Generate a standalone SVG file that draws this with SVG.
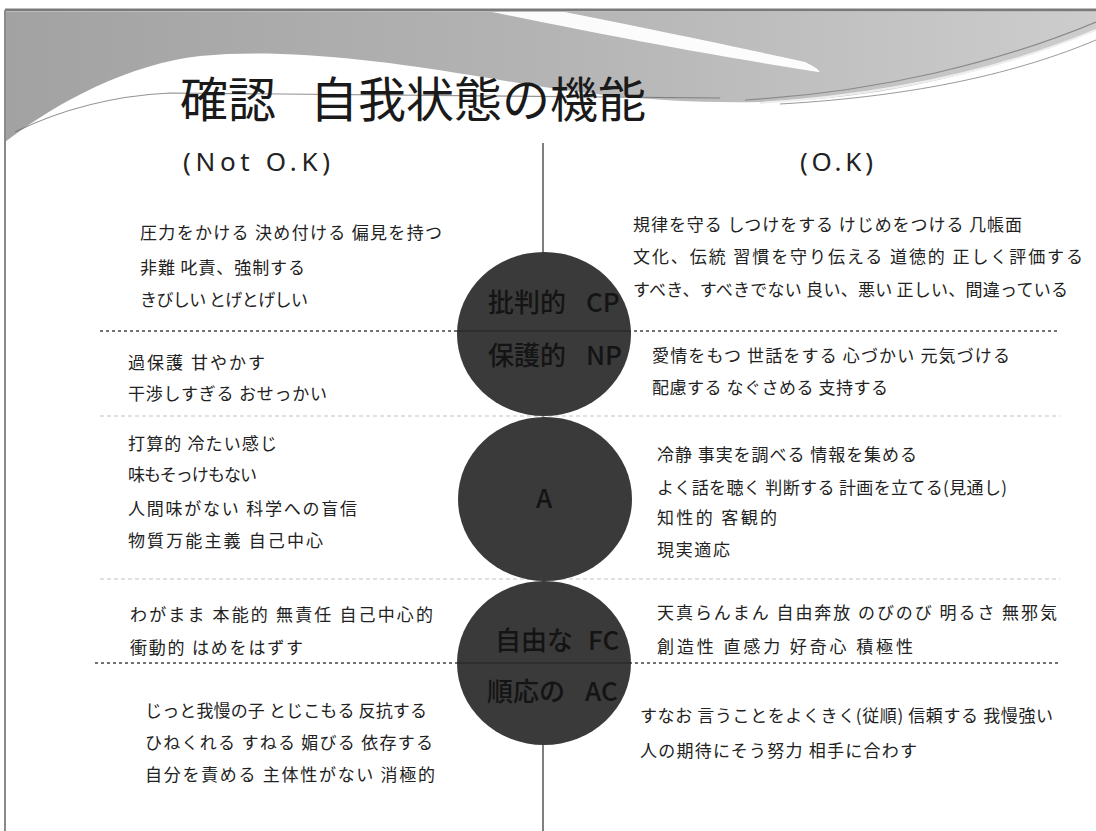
<svg xmlns="http://www.w3.org/2000/svg" width="1096" height="831" viewBox="0 0 1096 831">
<defs>
<linearGradient id="hdr" x1="0" y1="0" x2="1" y2="0">
<stop offset="0" stop-color="#a2a2a2"/>
<stop offset="0.5" stop-color="#b4b4b4"/>
<stop offset="1" stop-color="#cdcdcd"/>
</linearGradient>
<style>
.t{font-family:"Noto Sans CJK JP","Noto Sans",sans-serif;fill:#222;font-size:17px}
.h{font-family:"Noto Sans","Noto Sans CJK JP",sans-serif;fill:#222;font-size:26px}
.c{fill:#3a3a3a}
.cl{font-family:"Noto Sans CJK JP","Noto Sans",sans-serif;fill:#141414;font-size:26px;font-weight:500}
.dk{stroke:#444;stroke-width:1.5;stroke-dasharray:3 3;fill:none}
.lt{stroke:#c4c4c4;stroke-width:1.2;stroke-dasharray:4 3;fill:none}
</style>
</defs>
<rect width="1096" height="831" fill="#fff"/>
<g id="background">
<path d="M5,12 L1096,12 L1096,30 C1000,70 880,100 760,102 C640,104 560,90 470,75 C380,60 280,48 200,56 C130,64 60,100 5,142 Z" fill="url(#hdr)"/>
<path d="M492,12 C570,28 690,52 818,72 C822,73 818,68 805,62 C705,40 615,22 565,12 Z" fill="#ffffff" opacity="0.95"/>
<path d="M1096,22 C1000,62 880,92 745,100" stroke="#8a8a8a" stroke-width="1.2" fill="none"/>
<path d="M1096,30 C1010,66 900,94 760,103" stroke="#eeeeee" stroke-width="2" fill="none"/>
<path d="M1096,40 C1020,72 920,96 780,104" stroke="#9a9a9a" stroke-width="1" fill="none"/>
<path d="M15,132 C60,110 110,96 170,93 L720,98" stroke="#666" stroke-width="1.2" fill="none" opacity="0.7"/>
<line x1="5" y1="10" x2="1096" y2="10" stroke="#7a7a7a" stroke-width="3"/>
<line x1="5" y1="10" x2="5" y2="831" stroke="#8a8a8a" stroke-width="2"/>
</g>
<g id="title">
<text font-family="'Noto Sans CJK JP',sans-serif" font-size="48" fill="#1a1a1a" y="117"><tspan x="180">確認</tspan><tspan x="310">自我状態の機能</tspan></text>
</g>
<g id="headers">
<text class="h" x="183" y="171" textLength="147" lengthAdjust="spacing">(Not O.K)</text>
<text class="h" x="800" y="171" textLength="73" lengthAdjust="spacing">(O.K)</text>
</g>
<g id="connectors">
<line x1="543" y1="143" x2="543" y2="831" stroke="#555" stroke-width="1.5"/>
<line class="dk" x1="100" y1="331" x2="1060" y2="331"/>
<line class="lt" x1="100" y1="416" x2="1060" y2="416"/>
<line class="lt" x1="100" y1="579" x2="1060" y2="579"/>
<line class="dk" x1="95" y1="663" x2="1060" y2="663"/>
</g>
<g id="node-cp-np">
<ellipse class="c" cx="544" cy="334" rx="87" ry="82"/>
<line x1="457" y1="331" x2="631" y2="331" stroke="#222" stroke-width="1.2"/>
<text class="cl" y="312"><tspan x="488">批判的</tspan><tspan x="586">CP</tspan></text>
<text class="cl" y="365"><tspan x="488">保護的</tspan><tspan x="586">NP</tspan></text>
</g>
<g id="node-a">
<ellipse class="c" cx="545" cy="499" rx="87" ry="82"/>
<text class="cl" x="544" y="508" text-anchor="middle" font-size="22">A</text>
</g>
<g id="node-fc-ac">
<ellipse class="c" cx="544" cy="663" rx="87" ry="82"/>
<line x1="457" y1="663" x2="631" y2="663" stroke="#222" stroke-width="1.2"/>
<text class="cl" y="650"><tspan x="495">自由な</tspan><tspan x="588">FC</tspan></text>
<text class="cl" y="701"><tspan x="487">順応の</tspan><tspan x="585">AC</tspan></text>
</g>
<g id="cp-notok">
<text class="t" x="140" y="239" textLength="302" lengthAdjust="spacing">圧力をかける 決め付ける 偏見を持つ</text>
<text class="t" x="140" y="274" textLength="165" lengthAdjust="spacing">非難 叱責、強制する</text>
<text class="t" x="140" y="306" textLength="168" lengthAdjust="spacing">きびしい とげとげしい</text>
</g>
<g id="cp-ok">
<text class="t" x="633" y="231" textLength="389" lengthAdjust="spacing">規律を守る しつけをする けじめをつける 几帳面</text>
<text class="t" x="633" y="263" textLength="450" lengthAdjust="spacing">文化、伝統 習慣を守り伝える 道徳的 正しく評価する</text>
<text class="t" x="633" y="296" textLength="435" lengthAdjust="spacing">すべき、すべきでない 良い、悪い 正しい、間違っている</text>
</g>
<g id="np-notok">
<text class="t" x="128" y="369" textLength="137" lengthAdjust="spacing">過保護 甘やかす</text>
<text class="t" x="128" y="400" textLength="199" lengthAdjust="spacing">干渉しすぎる おせっかい</text>
</g>
<g id="np-ok">
<text class="t" x="652" y="362" textLength="358" lengthAdjust="spacing">愛情をもつ 世話をする 心づかい 元気づける</text>
<text class="t" x="652" y="394" textLength="236" lengthAdjust="spacing">配慮する なぐさめる 支持する</text>
</g>
<g id="a-notok">
<text class="t" x="128" y="450" textLength="149" lengthAdjust="spacing">打算的 冷たい感じ</text>
<text class="t" x="128" y="481" textLength="129" lengthAdjust="spacing">味もそっけもない</text>
<text class="t" x="128" y="515" textLength="229" lengthAdjust="spacing">人間味がない 科学への盲信</text>
<text class="t" x="128" y="547" textLength="195" lengthAdjust="spacing">物質万能主義 自己中心</text>
</g>
<g id="a-ok">
<text class="t" x="657" y="461" textLength="260" lengthAdjust="spacing">冷静 事実を調べる 情報を集める</text>
<text class="t" x="657" y="494" textLength="350" lengthAdjust="spacing">よく話を聴く 判断する 計画を立てる(見通し)</text>
<text class="t" x="657" y="524" textLength="120" lengthAdjust="spacing">知性的 客観的</text>
<text class="t" x="657" y="556" textLength="73" lengthAdjust="spacing">現実適応</text>
</g>
<g id="fc-notok">
<text class="t" x="130" y="621" textLength="303" lengthAdjust="spacing">わがまま 本能的 無責任 自己中心的</text>
<text class="t" x="130" y="654" textLength="173" lengthAdjust="spacing">衝動的 はめをはずす</text>
</g>
<g id="fc-ok">
<text class="t" x="657" y="619" textLength="400" lengthAdjust="spacing">天真らんまん 自由奔放 のびのび 明るさ 無邪気</text>
<text class="t" x="657" y="653" textLength="256" lengthAdjust="spacing">創造性 直感力 好奇心 積極性</text>
</g>
<g id="ac-notok">
<text class="t" x="145" y="717" textLength="282" lengthAdjust="spacing">じっと我慢の子 とじこもる 反抗する</text>
<text class="t" x="145" y="749" textLength="288" lengthAdjust="spacing">ひねくれる すねる 媚びる 依存する</text>
<text class="t" x="145" y="781" textLength="290" lengthAdjust="spacing">自分を責める 主体性がない 消極的</text>
</g>
<g id="ac-ok">
<text class="t" x="640" y="722" textLength="413" lengthAdjust="spacing">すなお 言うことをよくきく(従順) 信頼する 我慢強い</text>
<text class="t" x="640" y="757" textLength="277" lengthAdjust="spacing">人の期待にそう努力 相手に合わす</text>
</g>
</svg>
